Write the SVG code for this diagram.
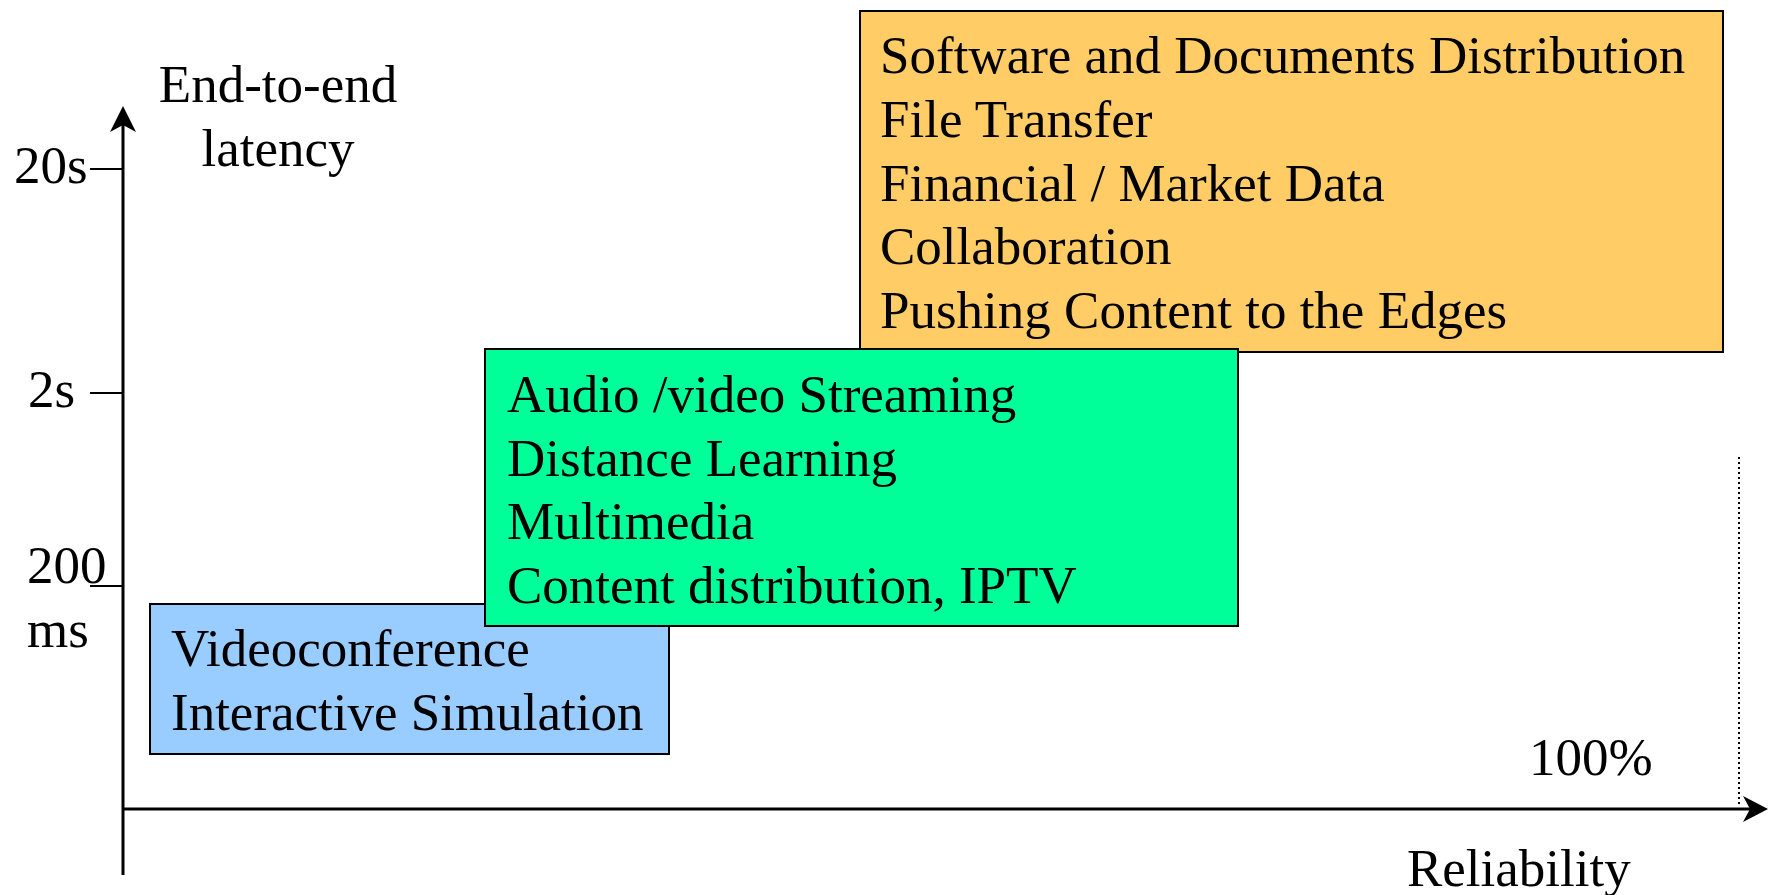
<svg xmlns="http://www.w3.org/2000/svg" width="1769" height="895" viewBox="0 0 1769 895">
<style>
text{font-family:"Liberation Serif","Times New Roman",serif;font-size:53px;fill:#000}
.box{stroke:#000;stroke-width:2}
.ax{stroke:#000;stroke-width:3;fill:none}
.tick{stroke:#000;stroke-width:2;fill:none}
</style>
<rect width="1769" height="895" fill="#fff"/>
<g id="axes">
<line class="ax" x1="123" y1="118" x2="123" y2="875"/>
<path d="M123,106 L136,132 L123,125 L110,132 Z" fill="#000"/>
<line class="ax" x1="122" y1="809" x2="1755" y2="809"/>
<path d="M1768,809 L1743,796 L1750,809 L1743,822 Z" fill="#000"/>
<line class="tick" x1="90" y1="169" x2="123" y2="169"/>
<line class="tick" x1="90" y1="393" x2="123" y2="393"/>
<line class="tick" x1="90" y1="586" x2="123" y2="586"/>
<line x1="1739" y1="457" x2="1739" y2="807" stroke="#000" stroke-width="2" stroke-dasharray="2,3"/>
<text x="278" y="102" text-anchor="middle">End-to-end</text>
<text x="278" y="166" text-anchor="middle">latency</text>
<text x="14" y="183">20s</text>
<text x="28" y="407">2s</text>
<text x="27" y="583">200</text>
<text x="27" y="647">ms</text>
<text x="1529" y="775">100%</text>
<text x="1407" y="886">Reliability</text>
</g>
<g id="node-orange">
<rect class="box" x="860" y="11" width="863" height="341" fill="#FFCC66"/>
<text x="880" y="73">Software and Documents Distribution</text>
<text x="880" y="137">File Transfer</text>
<text x="880" y="201">Financial / Market Data</text>
<text x="880" y="264">Collaboration</text>
<text x="880" y="328">Pushing Content to the Edges</text>
</g>
<g id="node-blue">
<rect class="box" x="150" y="604" width="519" height="150" fill="#99CCFF"/>
<text x="171" y="666">Videoconference</text>
<text x="171" y="730">Interactive Simulation</text>
</g>
<g id="node-green">
<rect class="box" x="485" y="349" width="753" height="277" fill="#00FF99"/>
<text x="507" y="412">Audio /video Streaming</text>
<text x="507" y="476">Distance Learning</text>
<text x="507" y="539">Multimedia</text>
<text x="507" y="603">Content distribution, IPTV</text>
</g>
<g id="connectors"></g>
</svg>
